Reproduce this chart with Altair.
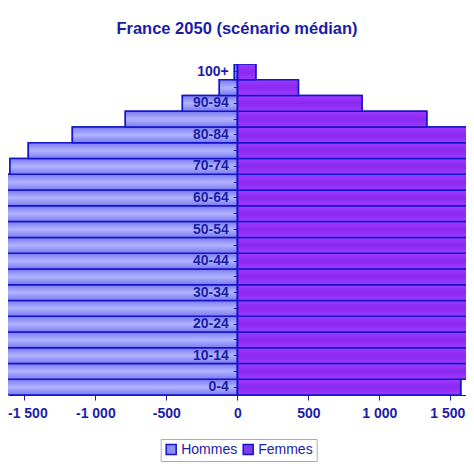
import altair as alt
import pandas as pd

ages = ["0-4", "5-9", "10-14", "15-19", "20-24", "25-29", "30-34", "35-39",
        "40-44", "45-49", "50-54", "55-59", "60-64", "65-69", "70-74", "75-79",
        "80-84", "85-89", "90-94", "95-99", "100+"]
hommes = [1652, 1690, 1720, 1740, 1770, 1790, 1810, 1840, 1860, 1880, 1870,
          1880, 1880, 1780, 1601, 1472, 1162, 789, 387, 127, 21]
femmes = [1573, 1618, 1646, 1653, 1690, 1720, 1750, 1780, 1810, 1840, 1860,
          1890, 1930, 1900, 1830, 1780, 1618, 1334, 878, 430, 130]
shown_labels = ["0-4", "10-14", "20-24", "30-34", "40-44", "50-54", "60-64",
                "70-74", "80-84", "90-94", "100+"]
x_ticks = [-1500, -1000, -500, 0, 500, 1000, 1500]

rows = []
for a, h, f in zip(ages, hommes, femmes):
    rows.append({"age": a, "sexe": "Hommes", "valeur": -h})
    rows.append({"age": a, "sexe": "Femmes", "valeur": f})
df = pd.DataFrame(rows)

DARK = "#1c1ca8"
STROKE = "#1414c8"
FONT = "Liberation Sans"

x_enc = alt.X(
    "valeur:Q",
    scale=alt.Scale(domain=[-1615, 1610], nice=False, zero=False),
    axis=alt.Axis(
        values=x_ticks, grid=False, title=None,
        labelExpr="(datum.value < 0 ? '-' : '') + replace(format(abs(datum.value), ','), ',', ' ')",
        labelFont=FONT, labelFontSize=14, labelFontWeight="bold", labelColor=DARK,
        tickColor=DARK, tickSize=5, labelPadding=6, domainColor=STROKE,
        labelFlush=False, labelOverlap=False,
        labelOffset={"condition": [{"test": "datum.value == -1500", "value": 3},
                                   {"test": "datum.value == 1500", "value": -3}],
                     "value": 0},
    ),
)
y_enc = alt.Y(
    "age:N",
    sort=list(reversed(ages)),
    scale=alt.Scale(paddingInner=0, paddingOuter=0),
    axis=alt.Axis(
        title=None, offset=-229.3, zindex=1,
        labelExpr="indexof(" + str(shown_labels) + ", datum.value) >= 0 ? datum.value : ''",
        labelFont=FONT, labelFontSize=14, labelFontWeight="bold", labelColor=DARK,
        tickColor=DARK, tickSize=4, labelPadding=5, domainColor=STROKE,
        labelOverlap=False,
    ),
)

base = alt.Chart(df)

legend_layer = base.mark_bar(stroke=STROKE, strokeWidth=1.5, clip=True).encode(
    x=x_enc,
    y=y_enc,
    color=alt.Color(
        "sexe:N",
        scale=alt.Scale(domain=["Hommes", "Femmes"], range=["#8c8cf5", "#7a3df0"]),
        legend=alt.Legend(
            title=None, orient="none", legendX=152.7, legendY=375,
            direction="horizontal", symbolType="square", symbolSize=100,
            symbolStrokeColor=STROKE, symbolStrokeWidth=1.5,
            labelFont=FONT, labelFontSize=14, labelColor=DARK,
            labelOffset=3, columnPadding=2, padding=3.5,
            strokeColor="#a8a8c8", fillColor="white",
        ),
    ),
)

grad_h = alt.Gradient(
    gradient="linear", x1=0, y1=0, x2=0, y2=1,
    stops=[alt.GradientStop(color="#7a7af0", offset=0),
           alt.GradientStop(color="#b0b4ff", offset=0.5),
           alt.GradientStop(color="#7a7af0", offset=1)],
)
grad_f = alt.Gradient(
    gradient="linear", x1=0, y1=0, x2=0, y2=1,
    stops=[alt.GradientStop(color="#9c3cff", offset=0),
           alt.GradientStop(color="#8c28f0", offset=0.5),
           alt.GradientStop(color="#9c3cff", offset=1)],
)

h_layer = base.transform_filter(alt.datum.sexe == "Hommes").mark_bar(
    fill=grad_h, stroke=STROKE, strokeWidth=1.5, clip=True
).encode(x=x_enc, y=y_enc)
f_layer = base.transform_filter(alt.datum.sexe == "Femmes").mark_bar(
    fill=grad_f, stroke=STROKE, strokeWidth=1.5, clip=True
).encode(x=x_enc, y=y_enc)

chart = alt.layer(legend_layer, h_layer, f_layer).properties(
    width=458, height=331,
    background="white",
    title=alt.TitleParams(
        "France 2050 (scénario médian)", font=FONT, fontSize=16.5, fontWeight="bold",
        color=DARK, offset=27, dx=0,
    ),
    autosize=alt.AutoSizeParams(type="none"),
    padding={"left": 0, "top": 56, "right": 0, "bottom": 67},
).configure_view(stroke="transparent", strokeWidth=0)

chart.save("out.html", embed_options={"renderer": "svg", "actions": False})
